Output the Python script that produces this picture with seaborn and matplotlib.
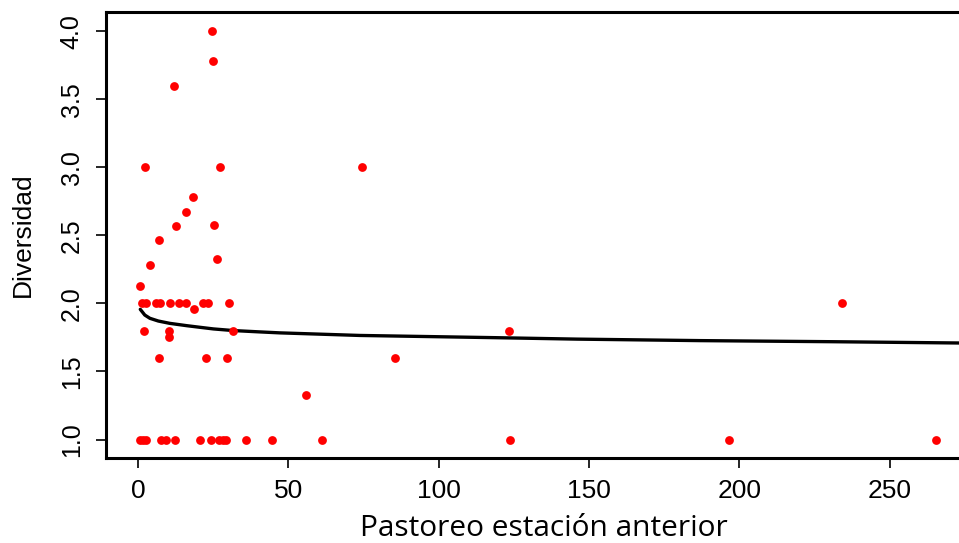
import matplotlib
matplotlib.use("Agg")
import matplotlib.pyplot as plt
import numpy as np
import pandas as pd
import seaborn as sns

# grazing in the previous season vs diversity
pastoreo = [0.8, 1.5, 2.7, 2.4, 4.0, 6.0, 7.3, 7.0, 10.6, 12.6, 11.9, 13.7,
            16.0, 15.9, 18.3, 18.7, 21.5, 23.4, 24.5, 24.9, 25.3, 26.4, 27.4, 30.2,
            1.9, 10.2, 10.2, 31.5, 7.0, 22.8, 29.7, 55.9, 74.6, 85.6, 123.5, 234.1,
            0.7, 1.8, 2.7, 7.6, 9.2, 12.3, 20.7, 24.4, 27.0, 28.2, 29.2, 35.8,
            44.5, 61.2, 123.7, 196.6, 265.5]
diversidad = [2.13, 2.0, 2.0, 3.0, 2.28, 2.0, 2.0, 2.47, 2.0, 2.57, 3.6, 2.0,
              2.0, 2.67, 2.78, 1.96, 2.0, 2.0, 4.0, 3.78, 2.58, 2.33, 3.0, 2.0,
              1.8, 1.8, 1.75, 1.8, 1.6, 1.6, 1.6, 1.33, 3.0, 1.6, 1.8, 2.0,
              1.0, 1.0, 1.0, 1.0, 1.0, 1.0, 1.0, 1.0, 1.0, 1.0, 1.0, 1.0,
              1.0, 1.0, 1.0, 1.0, 1.0]

# fitted curve
fit_x = [0.8, 2.3, 4.0, 6.8, 10.6, 16.2, 20.6, 25.1, 31.7, 40.6, 47.2, 73.8,
         96.0, 118.0, 146.0, 187.0, 231.0, 280.0]
fit_y = [1.957, 1.915, 1.891, 1.871, 1.854, 1.837, 1.825, 1.813, 1.801, 1.791,
         1.784, 1.765, 1.757, 1.749, 1.738, 1.727, 1.719, 1.708]

x_ticks = [0, 50, 100, 150, 200, 250]
y_ticks = [1.0, 1.5, 2.0, 2.5, 3.0, 3.5, 4.0]

df = pd.DataFrame({"pastoreo": pastoreo, "diversidad": diversidad})
df_fit = pd.DataFrame({"x": fit_x, "y": fit_y})

sns.set_style("white")
plt.rcParams["font.family"] = ["Liberation Sans", "DejaVu Sans"]
plt.rcParams["text.color"] = "black"
plt.rcParams["axes.labelcolor"] = "black"
plt.rcParams["xtick.color"] = "black"
plt.rcParams["ytick.color"] = "black"

fig = plt.figure(figsize=(9.59, 5.43), dpi=100)
# axes run past the right edge, like the cropped original
ax = fig.add_axes([106 / 959, 85 / 543, 864 / 959, 446 / 543])

sns.scatterplot(data=df, x="pastoreo", y="diversidad", ax=ax, color="#ff0000",
                s=40, linewidth=0, zorder=3)
sns.lineplot(data=df_fit, x="x", y="y", ax=ax, color="black", linewidth=2.4,
             sort=False, estimator=None, zorder=2)

ax.set_xlim(-10.6, 276.7)
ax.set_ylim(0.864, 4.143)
ax.set_xticks(x_ticks)
ax.set_xticklabels([str(t) for t in x_ticks], fontsize=19)
ax.set_yticks(y_ticks)
ax.set_yticklabels([f"{t:.1f}" for t in y_ticks], fontsize=18, rotation=90, va="center")

ax.tick_params(axis="both", direction="out", length=7, width=1.2, color="black",
               bottom=True, left=True, labelcolor="black")
ax.tick_params(axis="x", pad=8)
ax.tick_params(axis="y", pad=9)

for side in ["left", "bottom", "top", "right"]:
    ax.spines[side].set_visible(True)
    ax.spines[side].set_color("black")
    ax.spines[side].set_linewidth(2.2)

ax.set_xlabel("Pastoreo estación anterior", fontsize=21.5,
              family=["Open Sans", "DejaVu Sans"], color="black")
ax.set_ylabel("Diversidad", fontsize=19, color="black")
ax.xaxis.set_label_coords(0.507, -0.125)
ax.yaxis.set_label_coords(-0.082, 0.5)

fig.savefig("out.png", dpi=100)
